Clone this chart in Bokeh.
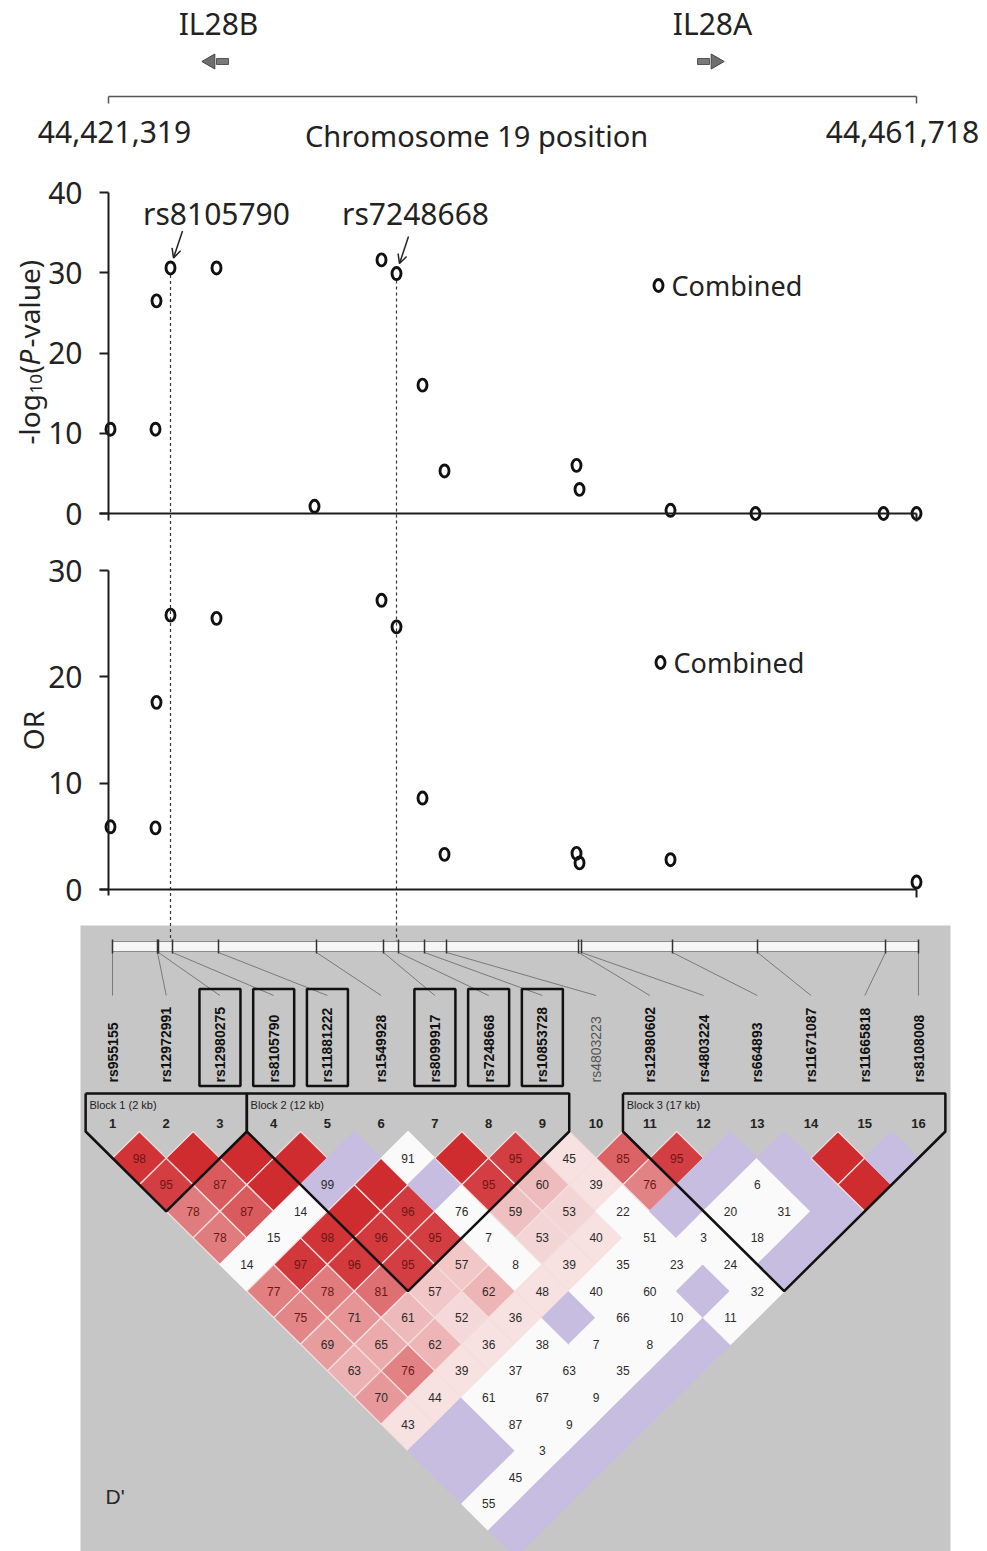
import math
from bokeh.plotting import figure
from bokeh.models import Range1d, LinearAxis, FixedTicker, Arrow, OpenHead
from bokeh.core.properties import value
from bokeh.embed import file_html
from bokeh.resources import INLINE

# ---------------- data ----------------
snp_names = ["rs955155", "rs12972991", "rs12980275", "rs8105790", "rs11881222",
             "rs1549928", "rs8099917", "rs7248668", "rs10853728", "rs4803223",
             "rs12980602", "rs4803224", "rs664893", "rs11671087", "rs11665818",
             "rs8108008"]
snp_pos = [44421419, 44423669, 44423719, 44424419, 44426719, 44431619, 44434969,
           44435719, 44437019, 44438119, 44444719, 44444869, 44449419, 44453669,
           44460069, 44461718]
logp_vals = [10.5, 10.5, 26.5, 30.6, 30.6, 0.9, 31.6, 29.9, 16.0, 5.3, 6.0, 3.0,
             0.4, 0.0, 0.0, 0.0]
or_vals = [5.9, 5.8, 17.6, 25.8, 25.5, None, 27.2, 24.7, 8.6, 3.3, 3.4, 2.5,
           2.8, None, None, 0.7]
logp_ticks = [0, 10, 20, 30, 40]
or_ticks = [0, 10, 20, 30]
axis_start, axis_end = 44421319, 44461718
axis_labels = ["44,421,319", "44,461,718"]
genes = ["IL28B", "IL28A"]
gene_pos = [44426669, 44451419]
gene_dir = [-1, 1]
marked = [3, 7]          # rs8105790, rs7248668
boxed = [3, 4, 5, 7, 8, 9]
block_start = [1, 4, 11]
block_end = [3, 9, 16]
block_names = ["Block 1 (2 kb)", "Block 2 (12 kb)", "Block 3 (17 kb)"]

# D' x100 for pair (i, j), row i lists j = i+1 .. 16 ; 100 = complete LD
dprime = [
    [98, 95, 78, 78, 14, 77, 75, 69, 63, 70, 43, 100, 100, 55, 100],
    [100, 87, 87, 15, 97, 78, 71, 65, 76, 44, 100, 100, 45, 100],
    [100, 100, 14, 98, 96, 81, 61, 62, 39, 61, 87, 3, 100],
    [100, 99, 100, 96, 95, 57, 52, 36, 37, 67, 9, 100],
    [100, 100, 96, 95, 57, 62, 36, 38, 63, 9, 100],
    [91, 100, 76, 7, 8, 48, 100, 7, 35, 100],
    [100, 95, 59, 53, 39, 40, 66, 8, 100],
    [95, 60, 53, 40, 35, 60, 10, 100],
    [45, 39, 22, 51, 23, 100, 11],
    [85, 76, 100, 3, 24, 32],
    [95, 100, 20, 18, 100],
    [100, 6, 31, 100],
    [100, 100, 100],
    [100, 100],
    [100],
]
# 1 = LOD >= 2, 0 = LOD < 2
lod_high = [
    [1, 1, 1, 1, 0, 1, 1, 1, 1, 1, 1, 0, 0, 0, 0],
    [1, 1, 1, 0, 1, 1, 1, 1, 1, 1, 0, 0, 0, 0],
    [1, 1, 0, 1, 1, 1, 1, 1, 1, 0, 0, 0, 0],
    [1, 0, 1, 1, 1, 1, 1, 1, 0, 0, 0, 0],
    [0, 1, 1, 1, 1, 1, 1, 0, 0, 0, 0],
    [0, 0, 0, 0, 0, 1, 0, 0, 0, 0],
    [1, 1, 1, 1, 1, 0, 0, 0, 0],
    [1, 1, 1, 1, 0, 0, 0, 0],
    [1, 1, 0, 0, 0, 0, 0],
    [1, 1, 0, 0, 0, 0],
    [1, 0, 0, 0, 0],
    [0, 0, 0, 0],
    [0, 0, 0],
    [1, 1],
    [0],
]

# ---------------- layout ----------------
W, H, M = 987, 1551, 0
FONT = "Noto Sans"
LDFONT = "Liberation Sans"
INK = "#1c1c1c"

bp_per_px = (axis_end - axis_start) / (916 - 108)


def xr(va, pa, vb, pb):
    k = (pb - pa) / (vb - va)
    s = va - (pa - M) / k
    return Range1d(start=s, end=s + W / k)


def yr(va, pa, vb, pb):
    k = (pa - pb) / (vb - va)
    s = va - (M + H - pa) / k
    return Range1d(start=s, end=s + H / k)


LD_TOP, LD_STEP = 1131, 26.6

p = figure(width=W, height=H, x_range=Range1d(M, M + W), y_range=Range1d(M + H, M),
           output_backend="svg", toolbar_location=None, min_border=0,
           x_axis_type=None, y_axis_type=None, outline_line_color=None,
           background_fill_color="white", border_fill_color="white")
p.title.visible = False
p.extra_x_ranges = {
    "bp": xr(axis_start, 108, axis_end, 916),
    "ld": xr(1, 112, 16, 918),
    "bar": xr(snp_pos[0], 112, snp_pos[-1], 918),
}
p.extra_y_ranges = {
    "logp": yr(0, 513, 40, 192),
    "or": yr(0, 889, 30, 570),
    "ldy": yr(0, LD_TOP, 10, LD_TOP + 10 * LD_STEP),
}


def bp_px(v):
    return 108 + (v - axis_start) / bp_per_px


def logp_py(v):
    return 513 - v * (513 - 192) / 40


def ld_px(k):
    return 112 + (k - 1) * (918 - 112) / 15


def bar_px(v):
    return 112 + (v - snp_pos[0]) * (918 - 112) / (snp_pos[-1] - snp_pos[0])


def T(**kw):
    base = dict(text_font=value(FONT), text_color="#222", text_baseline="middle",
                text_align="center", text_font_size="28px")
    base.update(kw)
    return base


# ---------------- gene map ----------------
p.text(x=gene_pos, y=[23, 23], text=genes, x_offset=[3, 2], x_range_name="bp",
       **T(text_font_size="30px"))
shaft_x = [g - d * 7 * bp_per_px for g, d in zip(gene_pos, gene_dir)]
tri_x = [g + d * 5 * bp_per_px for g, d in zip(gene_pos, gene_dir)]
p.rect(x=shaft_x, y=[61, 61], width=12, width_units="screen", height=6,
       x_range_name="bp", fill_color="#7a7a7a", line_color="#555555", line_width=1)
p.scatter(x=tri_x, y=[61, 61], marker="triangle", size=15,
          angle=[-d * math.pi / 2 for d in gene_dir], x_range_name="bp",
          fill_color="#6f6f6f", line_color="#444444", line_width=1)

gax = LinearAxis(x_range_name="bp", fixed_location=96, bounds=(axis_start, axis_end),
                 ticker=FixedTicker(ticks=[axis_start, axis_end]),
                 major_label_overrides={axis_start: "", axis_end: ""},
                 axis_line_color="#555555", axis_line_width=1.5,
                 major_tick_line_color="#555555", major_tick_line_width=1.5,
                 major_tick_in=0, major_tick_out=7, minor_tick_in=0, minor_tick_out=0)
p.add_layout(gax, "below")
p.text(x=[axis_start, axis_end], y=[131, 131], text=axis_labels, x_offset=[6, -14],
       x_range_name="bp", **T(text_font_size="30px"))
p.text(x=[476], y=[135], text=["Chromosome 19 position"], **T(text_font_size="29px"))

# ---------------- LD background (drawn early) ----------------
p.quad(left=[80], right=[950], top=[925], bottom=[1560], fill_color="#c6c6c6",
       line_color=None)

# ---------------- association axes ----------------
AX = dict(axis_line_color=INK, axis_line_width=2, major_tick_line_color=INK,
          major_tick_line_width=2, major_tick_in=0, minor_tick_in=0, minor_tick_out=0)


def y_axis(rname, ticks, low):
    ax = LinearAxis(x_range_name="bp", y_range_name=rname, fixed_location=axis_start,
                    bounds=(low, ticks[-1]), ticker=FixedTicker(ticks=ticks),
                    major_tick_out=9, major_label_standoff=17,
                    major_label_text_font=FONT, major_label_text_font_size="30px",
                    major_label_text_color="#222", **AX)
    p.add_layout(ax, "left")


def x_axis(rname):
    ax = LinearAxis(x_range_name="bp", y_range_name=rname, fixed_location=0,
                    bounds=(axis_start - 9 * bp_per_px, axis_end),
                    ticker=FixedTicker(ticks=[axis_end]),
                    major_label_overrides={axis_end: ""}, major_tick_out=8, **AX)
    p.add_layout(ax, "below")


y_axis("logp", logp_ticks, -0.9)
x_axis("logp")
y_axis("or", or_ticks, -0.6)
x_axis("or")

# y-axis titles
p.text(x=[28], y=[444], text=["-log"], angle=math.pi / 2, **T(text_align="left"))
p.text(x=[35], y=[393], text=["10"], angle=math.pi / 2,
       **T(text_align="left", text_font_size="17px"))
p.text(x=[28], y=[373], text=["("], angle=math.pi / 2, **T(text_align="left"))
p.text(x=[28], y=[365], text=["P"], angle=math.pi / 2,
       **T(text_align="left", text_font_style="italic"))
p.text(x=[28], y=[347], text=["-value)"], angle=math.pi / 2, **T(text_align="left"))
p.text(x=[32], y=[730], text=["OR"], angle=math.pi / 2, **T())

# dashed guide lines
mk_x = [snp_pos[i] for i in marked]
mk_y = [logp_vals[i] for i in marked]
p.segment(x0=mk_x, y0=[logp_py(v) + 7 for v in mk_y], x1=mk_x, y1=[950, 950],
          x_range_name="bp", line_dash="3 3", line_color="#333333", line_width=1.2)

# points
PT = dict(width=9, height=12, width_units="screen", height_units="screen",
          fill_color=None, line_color="#111111", line_width=2.9)
p.ellipse(x=snp_pos, y=logp_vals, x_range_name="bp", y_range_name="logp", **PT)
or_x = [x for x, v in zip(snp_pos, or_vals) if v is not None]
or_y = [v for v in or_vals if v is not None]
p.ellipse(x=or_x, y=or_y, x_range_name="bp", y_range_name="or", **PT)

# legends
p.ellipse(x=[658, 660], y=[285, 662], **PT)
p.text(x=[671, 673], y=[285, 662], text=["Combined", "Combined"],
       **T(text_align="left", text_font_size="27px"))

# SNP call-outs
p.text(x=mk_x, y=[213, 213], text=[snp_names[i] for i in marked], x_offset=[46, 19],
       x_range_name="bp", **T(text_font_size="30px"))
for i in marked:
    ex, ey = bp_px(snp_pos[i]) + 3, logp_py(logp_vals[i]) - 10
    p.add_layout(Arrow(end=OpenHead(size=9, line_width=1.5, line_color="#222222"),
                       x_start=ex + 9, y_start=ey - 27, x_end=ex, y_end=ey,
                       line_width=1.5, line_color="#222222"))

# ---------------- LD plot ----------------
n = len(snp_names)
idx = list(range(1, n + 1))
# physical map bar
p.quad(left=[snp_pos[0]], right=[snp_pos[-1]], top=[941], bottom=[951], x_range_name="bar",
       fill_color="#f6f6f6", line_color="#8a8a8a", line_width=1)
p.segment(x0=[bar_px(v) for v in snp_pos], y0=[952] * n, x1=[ld_px(k) for k in idx],
          y1=[995] * n, line_color="#7a7a7a", line_width=1)
p.segment(x0=snp_pos, y0=[939] * n, x1=snp_pos, y1=[953] * n, x_range_name="bar",
          line_color="#333333", line_width=1.5)

# SNP names
p.text(x=idx, y=[1082] * n, text=snp_names, angle=math.pi / 2, x_range_name="ld",
       text_font=value(LDFONT), text_font_size="14px", text_align="left",
       text_baseline="middle",
       text_font_style=["normal" if k == 10 else "bold" for k in idx],
       text_color=["#555555" if k == 10 else "#111111" for k in idx])
p.rect(x=boxed, y=[1037] * len(boxed), width=41, width_units="screen", height=97,
       x_range_name="ld", fill_color=None, line_color="#111111", line_width=2.5)

# diamonds
RED = (207, 44, 48)
WH = (252, 250, 250)
LAV = "#c6bde0"


def mix(t):
    return "#%02x%02x%02x" % tuple(int(round(w + (r - w) * t)) for w, r in zip(WH, RED))


xs, ys, fills, lines = [], [], [], []
vx, vy, vt, vc = [], [], [], []
for i in range(1, n):
    for jj, j in enumerate(range(i + 1, n + 1)):
        d = dprime[i - 1][jj]
        hi = lod_high[i - 1][jj]
        cx, cy = (i + j) / 2, j - i
        xs.append([cx - 0.5, cx, cx + 0.5, cx])
        ys.append([cy, cy - 1, cy, cy + 1])
        t = 0.0
        if d >= 100 and hi:
            col = mix(1.0)
            t = 1.0
        elif d >= 99 and not hi:
            col = LAV
        elif hi:
            blgr = 224 if d < 50 else min(224, 446 * (1 - d / 100))
            t = 1 - blgr / 255
            col = mix(t)
        else:
            col = "#fbfafa"
        fills.append(col)
        lines.append("#f4dede" if hi else col)
        if d < 100:
            vx.append(cx)
            vy.append(cy)
            vt.append(str(d))
            vc.append("#6e1616" if t > 0.55 else "#2a2a2a")

p.patches(xs=xs, ys=ys, x_range_name="ld", y_range_name="ldy", fill_color=fills,
          line_color=lines, line_width=1.3)
p.text(x=vx, y=vy, text=vt, x_range_name="ld", y_range_name="ldy",
       text_font=value(LDFONT), text_font_size="12px", text_align="center",
       text_baseline="middle", text_color=vc)

# block outlines
top = (1093 - LD_TOP) / LD_STEP
bx, by = [], []
for s, e in zip(block_start, block_end):
    bx.append([s - 0.5, s - 0.5, (s + e) / 2, e + 0.5, e + 0.5, s - 0.5])
    by.append([top, 0, e - s + 1, 0, top, top])
p.multi_line(xs=bx, ys=by, x_range_name="ld", y_range_name="ldy",
             line_color="#111111", line_width=2.5)
p.text(x=[s - 0.43 for s in block_start], y=[-0.98] * 3, text=block_names,
       x_range_name="ld", y_range_name="ldy", text_font=value(LDFONT),
       text_font_size="11px", text_align="left", text_baseline="middle",
       text_color="#222222")
p.text(x=idx, y=[-0.3] * n, text=[str(k) for k in idx], x_range_name="ld",
       y_range_name="ldy", text_font=value(LDFONT), text_font_size="13px",
       text_font_style="bold", text_align="center", text_baseline="middle",
       text_color="#222222")
p.text(x=[105], y=[1496], text=["D'"], text_font=value(LDFONT), text_font_size="21px",
       text_align="left", text_baseline="middle", text_color="#2a2a2a")

open("out.html", "w").write(file_html(p, INLINE))
